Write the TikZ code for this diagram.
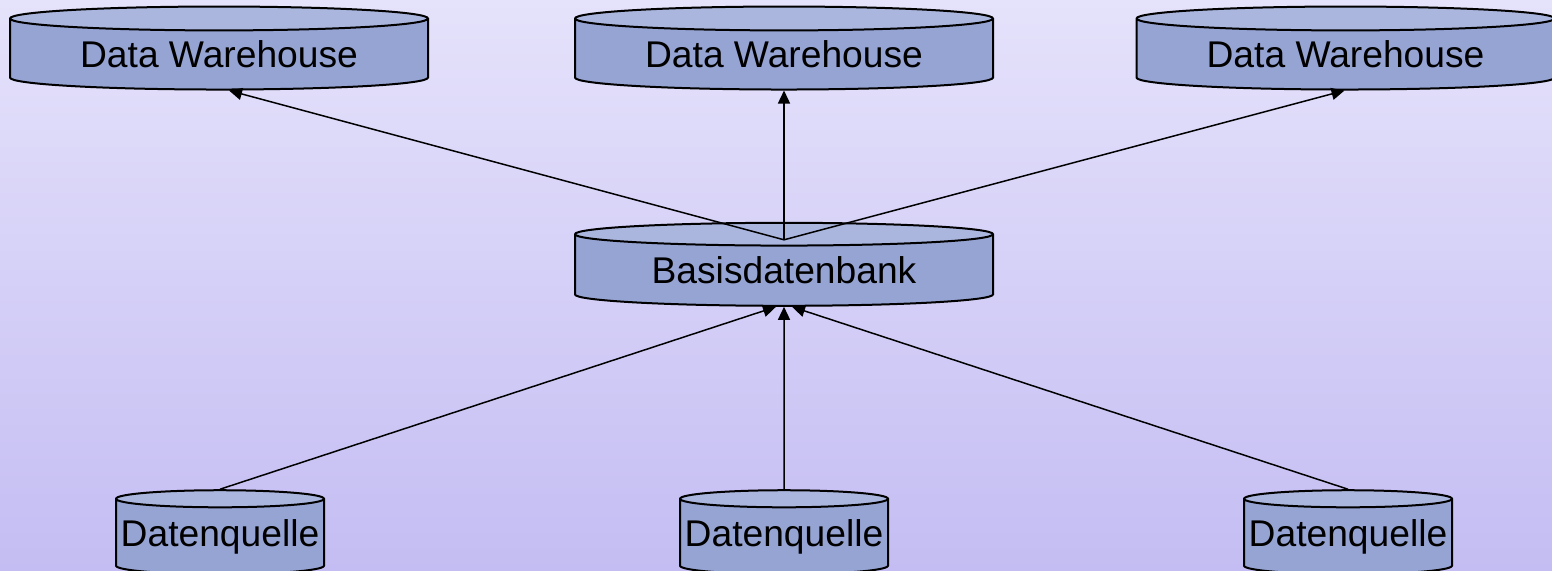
\documentclass[tikz,border=0pt]{standalone}
\usepackage{fontspec}
\setmainfont{Liberation Sans}
\usetikzlibrary{arrows.meta,shapes.geometric}

\definecolor{bgtop}{RGB}{229,226,251}
\definecolor{bgbottom}{RGB}{196,189,243}
\definecolor{dbbody}{RGB}{150,164,212}
\definecolor{dbtop}{RGB}{170,182,222}

\begin{document}
\begin{tikzpicture}[x=0.5pt,y=-0.5pt,
       db/.style={
         cylinder,
         shape border rotate=90,
         draw=black,
         line width=1pt,
         cylinder uses custom fill,
         cylinder body fill=dbbody,
         cylinder end fill=dbtop,
         aspect=0.086,
         inner sep=0pt,
         text=black,
         font=\fontsize{18.6}{22}\selectfont},
       wide/.style = {db, minimum width=209pt, minimum height=41.5pt},
       narrow/.style = {db, minimum width=104pt, minimum height=42pt},
       flow/.style = {-{Triangle[length=6.5pt,width=6pt]}, line width=0.75pt}
      ]
      \shade[top color=bgtop, bottom color=bgbottom] (0,0) rectangle (1552,571);
      \useasboundingbox (0,0) rectangle (1552,571);

      \node[wide] (DW1) at (219,54.5) {Data Warehouse};
      \node[wide] (DW2) at (784,54.5) {Data Warehouse};
      \node[wide] (DW3) at (1345.5,54.5) {Data Warehouse};

      \node[wide] (BDB) at (784,270.5) {Basisdatenbank};

      \node[narrow] (DQ1) at (220,537) {Datenquelle};
      \node[narrow] (DQ2) at (784,537) {Datenquelle};
      \node[narrow] (DQ3) at (1348,537) {Datenquelle};

      \coordinate (hub) at ([yshift=-9pt]BDB.north);
      \draw[flow] (hub) -- ([xshift=5pt]DW1.south);
      \draw[flow] (hub) -- (DW2.south);
      \draw[flow] (hub) -- ([xshift=-0.5pt]DW3.south);

      \draw[flow] (DQ1.north) -- ([xshift=-4pt]BDB.south);
      \draw[flow] (DQ2.north) -- (BDB.south);
      \draw[flow] (DQ3.north) -- ([xshift=4pt]BDB.south);
\end{tikzpicture}
\end{document}
